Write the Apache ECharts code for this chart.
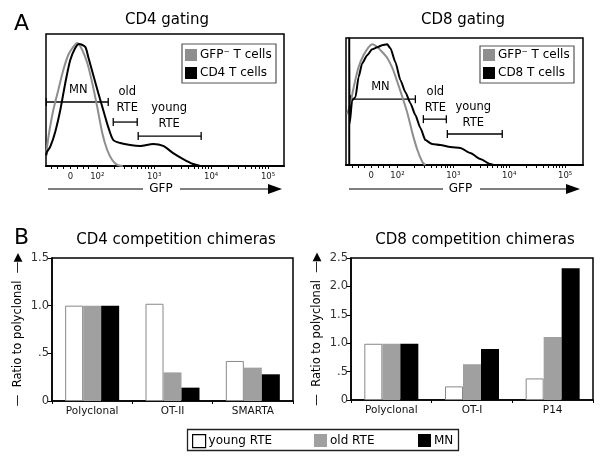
<!DOCTYPE html>
<html><head><meta charset="utf-8">
<script src="https://cdn.jsdelivr.net/npm/echarts@6/dist/echarts.min.js"></script>
<style>html,body{margin:0;padding:0;background:#fff}#c{width:604px;height:462px}</style>
</head><body><div id="c"></div>
<script>
// ---------- data ----------
const gfpTickValues = [1.53, 2, 3, 4, 5];
const gfpTickLabels = ['0', '10²', '10³', '10⁴', '10⁵'];
const gfpMinorTicks = [1.2, 1.3, 1.4, 1.53, 1.65, 1.75, 1.85, 2, 2.3, 2.48, 2.6, 2.7, 2.78, 2.85, 2.9, 2.95, 3, 3.3, 3.48, 3.6, 3.7, 3.78, 3.85, 3.9, 3.95, 4, 4.3, 4.48, 4.6, 4.7, 4.78, 4.85, 4.9, 4.95, 5];

const cd4GfpNeg = [[1.105,10],[1.15,24],[1.228,42.4],[1.316,57.6],[1.404,72.7],[1.491,84.1],[1.579,90.2],[1.649,93.2],[1.737,87.9],[1.825,78],[1.912,62.9],[2.0,44.7],[2.088,25],[2.175,12.1],[2.263,4.5],[2.351,0.8],[2.45,0]];
const cd4Tcells = [[1.105,8],[1.118,10.8],[1.175,14.6],[1.263,26],[1.351,42.4],[1.439,62.9],[1.526,80.3],[1.614,89.4],[1.684,92.4],[1.789,90.2],[1.842,82.6],[1.930,68.9],[2.018,55.3],[2.105,42.4],[2.193,29.5],[2.281,19.7],[2.404,17.4],[2.579,15.9],[2.754,15.2],[2.982,16.7],[3.158,15.2],[3.333,9.8],[3.509,5.3],[3.684,1.5],[3.807,0]];
const cd4Gates = [[1.105,2.193,48.5],[2.281,2.702,33.3],[2.719,3.825,22.7]];
const cd4GateLabelPos = [[1.667,57.6],[2.526,50],[3.263,37.5]];
const gateLabelText = ['MN','old\nRTE','young\nRTE'];

const cd8GfpNeg = [[1.1,40],[1.161,48.7],[1.214,60.5],[1.304,77],[1.393,86.4],[1.482,92.7],[1.554,95],[1.643,92.7],[1.732,88.8],[1.821,84.1],[1.911,76.2],[2.0,65.2],[2.089,53.4],[2.179,40.8],[2.268,25.1],[2.357,11.8],[2.446,2.4],[2.5,0]];
const cd8Tcells = [[1.138,0],[1.138,100],[1.141,100],[1.143,32],[1.191,51],[1.25,53.4],[1.304,69.1],[1.37,80.1],[1.459,86.4],[1.548,91.1],[1.638,92.7],[1.727,94.3],[1.816,95],[1.875,91.9],[1.964,80.9],[2.054,66.8],[2.143,57.3],[2.232,48.7],[2.321,39.3],[2.411,29.1],[2.5,19.6],[2.62,16.5],[2.768,15.7],[2.946,14.1],[3.125,13.4],[3.304,9.4],[3.482,4.7],[3.661,0.8],[3.714,0]];
const cd8Gates = [[1.161,2.321,51.8],[2.464,2.875,36.1],[2.893,3.875,24.4]];
const cd8GateLabelPos = [[1.696,61.3],[2.679,51.1],[3.357,39.3]];

const cd4Categories = ['Polyclonal','OT-II','SMARTA'];
const cd4Young = [1.0, 1.02, 0.42];
const cd4Old = [1.0, 0.30, 0.35];
const cd4MN = [1.0, 0.14, 0.28];
const cd8Categories = ['Polyclonal','OT-I','P14'];
const cd8Young = [0.99, 0.24, 0.38];
const cd8Old = [0.99, 0.63, 1.11];
const cd8MN = [0.99, 0.90, 2.32];
const ratioLabels = {0:'0', 0.5:'.5', 1:'1.0', 1.5:'1.5', 2:'2.0', 2.5:'2.5'};

// ---------- helpers ----------
const FONT = 'DejaVu Sans';
const GRAY = '#8e8e8e';
const BARGRAY = '#a0a0a0';

function gateRender(params, api) {
  const y = api.value(2);
  const p1 = api.coord([api.value(0), y]);
  const p2 = api.coord([api.value(1), y]);
  const s = {stroke:'#000', lineWidth:1.3};
  return {type:'group', children:[
    {type:'line', shape:{x1:p1[0],y1:p1[1],x2:p2[0],y2:p2[1]}, style:s},
    {type:'line', shape:{x1:p1[0],y1:p1[1]-4,x2:p1[0],y2:p1[1]+4}, style:s},
    {type:'line', shape:{x1:p2[0],y1:p2[1]-4,x2:p2[0],y2:p2[1]+4}, style:s}
  ]};
}
function labelRender(params, api) {
  const p = api.coord([api.value(0), api.value(1)]);
  return {type:'text', x:p[0], y:p[1], style:{text:gateLabelText[params.dataIndex], fill:'#000', fontSize:11.5, fontFamily:FONT, align:'center', verticalAlign:'middle', lineHeight:16}};
}
function gfpAxis(idx, min, max) {
  return {type:'value', gridIndex:idx, min:min, max:max,
    axisLine:{show:true, lineStyle:{color:'#000', width:2}},
    axisTick:{show:true, customValues:gfpMinorTicks, length:3, lineStyle:{color:'#000', width:1}},
    axisLabel:{show:true, customValues:gfpTickValues, fontSize:8.5, fontFamily:FONT, color:'#222', margin:6,
      formatter:(v)=>{const i = gfpTickValues.indexOf(v); return i>=0 ? gfpTickLabels[i] : '';}},
    splitLine:{show:false}};
}
function histY(idx) {
  return {type:'value', gridIndex:idx, min:0, max:100, axisLine:{show:false}, axisTick:{show:false}, axisLabel:{show:false}, splitLine:{show:false}};
}
function catAxis(idx, cats) {
  return {type:'category', gridIndex:idx, data:cats,
    axisLine:{show:true, lineStyle:{color:'#000', width:1.5}},
    axisTick:{show:true, alignWithLabel:false, length:3, lineStyle:{color:'#000'}},
    axisLabel:{fontSize:10.5, fontFamily:FONT, color:'#111', margin:5}};
}
function ratioAxis(idx, max) {
  return {type:'value', gridIndex:idx, min:0, max:max, interval:0.5,
    name:'—  Ratio to polyclonal  —▶', nameLocation:'middle', nameRotate:90, nameGap:28,
    nameTextStyle:{fontSize:11.5, fontFamily:FONT, color:'#000'},
    axisLine:{show:true, lineStyle:{color:'#000', width:1.5}},
    axisTick:{show:true, length:4, lineStyle:{color:'#000'}},
    axisLabel:{fontSize:11.5, fontFamily:FONT, color:'#333', margin:3, formatter:(v)=>ratioLabels[v] !== undefined ? ratioLabels[v] : String(v)},
    splitLine:{show:false}};
}
function bar(name, data, idx, color, border) {
  return {type:'bar', name:name, data:data, xAxisIndex:idx, yAxisIndex:idx, barWidth:18, barGap:'0%',
    itemStyle:{color:color, borderColor:border || color, borderWidth:border ? 1 : 0}};
}
function bottomLegend(name, left, color, borderColor) {
  return {data:[{name:name, icon:'rect', itemStyle:{color:color, borderColor:borderColor, borderWidth:borderColor === color ? 0 : 1.2}}],
    left:left, top:434, padding:0, itemWidth:13, itemHeight:13, itemGap:4, selectedMode:false,
    textStyle:{fontSize:12, fontFamily:FONT, color:'#000', padding:[0,0,0,-2]}};
}
function histLegend(names, left, top) {
  return {data:names, orient:'vertical', left:left, top:top, padding:0, icon:'rect', itemWidth:12, itemHeight:12, itemGap:6, selectedMode:false,
    textStyle:{fontSize:12, fontFamily:FONT, color:'#000', padding:[0,0,0,-2]}};
}

const chart = echarts.init(document.getElementById('c'), null, {renderer:'canvas'});
chart.setOption({
  animation:false,
  backgroundColor:'#fff',
  textStyle:{fontFamily:FONT},
  title:[
    {text:'A', left:9, top:8, textStyle:{fontSize:22, fontWeight:'normal', fontFamily:FONT, color:'#000'}},
    {text:'B', left:9, top:222, textStyle:{fontSize:22, fontWeight:'normal', fontFamily:FONT, color:'#000'}},
    {text:'CD4 gating', left:162, top:8, textAlign:'center', textStyle:{fontSize:15, fontWeight:'normal', fontFamily:FONT, color:'#000'}},
    {text:'CD8 gating', left:458, top:8, textAlign:'center', textStyle:{fontSize:15, fontWeight:'normal', fontFamily:FONT, color:'#000'}},
    {text:'CD4 competition chimeras', left:171, top:228, textAlign:'center', textStyle:{fontSize:15, fontWeight:'normal', fontFamily:FONT, color:'#000'}},
    {text:'CD8 competition chimeras', left:470, top:228, textAlign:'center', textStyle:{fontSize:15, fontWeight:'normal', fontFamily:FONT, color:'#000'}}
  ],
  legend:[
    histLegend(['GFP⁻ T cells','CD4 T cells'], 185, 49),
    histLegend(['GFP⁻ T cells','CD8 T cells'], 483, 49),
    bottomLegend('young RTE', 192, '#fff', '#000'),
    bottomLegend('old RTE', 314, BARGRAY, BARGRAY),
    bottomLegend('MN', 418, '#000', '#000')
  ],
  grid:[
    {left:46, top:34, width:238, height:132, show:true, borderColor:'#000', borderWidth:1.5},
    {left:346, top:38, width:237, height:127, show:true, borderColor:'#000', borderWidth:1.5},
    {left:52, top:258, width:241, height:143, show:true, borderColor:'#000', borderWidth:1.5},
    {left:351, top:258, width:242, height:142, show:true, borderColor:'#000', borderWidth:1.5}
  ],
  xAxis:[gfpAxis(0, 1.1, 5.28), gfpAxis(1, 1.08, 5.32), catAxis(2, cd4Categories), catAxis(3, cd8Categories)],
  yAxis:[histY(0), histY(1), ratioAxis(2, 1.5), ratioAxis(3, 2.5)],
  series:[
    {type:'line', name:'GFP⁻ T cells', data:cd4GfpNeg, xAxisIndex:0, yAxisIndex:0, color:GRAY, showSymbol:false, smooth:0.25, lineStyle:{width:2, color:GRAY}},
    {type:'line', name:'CD4 T cells', data:cd4Tcells, xAxisIndex:0, yAxisIndex:0, color:'#000', showSymbol:false, smooth:0.25, lineStyle:{width:2, color:'#000'}},
    {type:'custom', data:cd4Gates, xAxisIndex:0, yAxisIndex:0, renderItem:gateRender, silent:true},
    {type:'custom', data:cd4GateLabelPos, xAxisIndex:0, yAxisIndex:0, renderItem:labelRender, silent:true},
    {type:'line', name:'GFP⁻ T cells', data:cd8GfpNeg, xAxisIndex:1, yAxisIndex:1, color:GRAY, showSymbol:false, smooth:0.25, lineStyle:{width:2, color:GRAY}},
    {type:'line', name:'CD8 T cells', data:cd8Tcells, xAxisIndex:1, yAxisIndex:1, color:'#000', showSymbol:false, smooth:0.2, smoothMonotone:'x', lineStyle:{width:2, color:'#000'}},
    {type:'custom', data:cd8Gates, xAxisIndex:1, yAxisIndex:1, renderItem:gateRender, silent:true},
    {type:'custom', data:cd8GateLabelPos, xAxisIndex:1, yAxisIndex:1, renderItem:labelRender, silent:true},
    bar('young RTE', cd4Young, 2, '#fff', '#888'),
    bar('old RTE', cd4Old, 2, BARGRAY),
    bar('MN', cd4MN, 2, '#000'),
    bar('young RTE', cd8Young, 3, '#fff', '#888'),
    bar('old RTE', cd8Old, 3, BARGRAY),
    bar('MN', cd8MN, 3, '#000')
  ],
  graphic:[
    {type:'rect', shape:{x:182, y:44, width:94, height:39}, style:{fill:'none', stroke:'#555', lineWidth:1.2}, z:-1},
    {type:'rect', shape:{x:480, y:46, width:94, height:37}, style:{fill:'none', stroke:'#555', lineWidth:1.2}, z:-1},
    {type:'rect', shape:{x:187.5, y:429.5, width:271, height:21}, style:{fill:'none', stroke:'#222', lineWidth:1.3}},
    // GFP arrows
    {type:'line', shape:{x1:48, y1:189, x2:143, y2:189}, style:{stroke:'#000', lineWidth:1.2}},
    {type:'text', x:161, y:189, style:{text:'GFP', fontSize:12, fontFamily:FONT, fill:'#000', align:'center', verticalAlign:'middle'}},
    {type:'line', shape:{x1:180, y1:189, x2:270, y2:189}, style:{stroke:'#000', lineWidth:1.2}},
    {type:'polygon', shape:{points:[[268,184],[282,189],[268,194]]}, style:{fill:'#000'}},
    {type:'line', shape:{x1:349, y1:189, x2:443, y2:189}, style:{stroke:'#000', lineWidth:1.2}},
    {type:'text', x:460.5, y:189, style:{text:'GFP', fontSize:12, fontFamily:FONT, fill:'#000', align:'center', verticalAlign:'middle'}},
    {type:'line', shape:{x1:480, y1:189, x2:568, y2:189}, style:{stroke:'#000', lineWidth:1.2}},
    {type:'polygon', shape:{points:[[566,184],[580,189],[566,194]]}, style:{fill:'#000'}}
  ]
});
</script></body></html>
